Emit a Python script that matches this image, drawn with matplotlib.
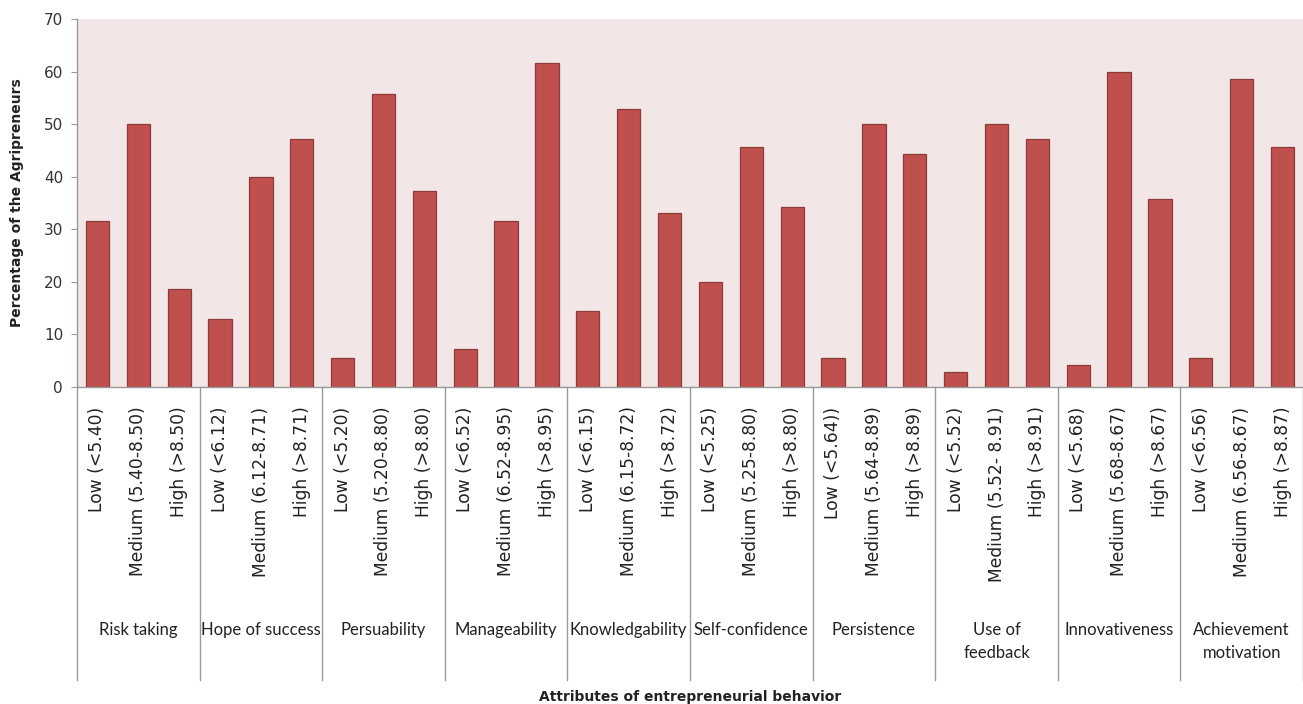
import numpy as np
import matplotlib.pyplot as plt
import matplotlib.transforms as mtransforms

# attribute groups and the three levels inside each
attributes = ['Risk taking', 'Hope of success', 'Persuability', 'Manageability',
              'Knowledgability', 'Self-confidence', 'Persistence', 'Use of\nfeedback',
              'Innovativeness', 'Achievement\nmotivation']

level_labels = [
    'Low (<5.40)', 'Medium (5.40-8.50)', 'High (>8.50)',
    'Low (<6.12)', 'Medium (6.12-8.71)', 'High (>8.71)',
    'Low (<5.20)', 'Medium (5.20-8.80)', 'High (>8.80)',
    'Low (<6.52)', 'Medium (6.52-8.95)', 'High (>8.95)',
    'Low (<6.15)', 'Medium (6.15-8.72)', 'High (>8.72)',
    'Low (<5.25)', 'Medium (5.25-8.80)', 'High (>8.80)',
    'Low (<5.64))', 'Medium (5.64-8.89)', 'High (>8.89)',
    'Low (<5.52)', 'Medium (5.52- 8.91)', 'High (>8.91)',
    'Low (<5.68)', 'Medium (5.68-8.67)', 'High (>8.67)',
    'Low (<6.56)', 'Medium (6.56-8.67)', 'High (>8.87)',
]

percent = [
    31.6, 50.1, 18.6,
    12.9, 39.9, 47.1,
    5.6, 55.7, 37.2,
    7.2, 31.6, 61.6,
    14.4, 52.9, 33.1,
    20.0, 45.6, 34.2,
    5.6, 50.1, 44.4,
    2.9, 50.1, 47.1,
    4.2, 60.0, 35.7,
    5.6, 58.5, 45.6,
]

W, H = 1303, 704
fig = plt.figure(figsize=(W / 100, H / 100), dpi=100)
ax = fig.add_axes([77 / W, 1 - 387 / H, 1 - 77 / W, (387 - 19) / H])

x = np.arange(len(percent))
ax.bar(x, percent, width=0.57, color='#C0504D', edgecolor='#8C3B39', linewidth=0.9, zorder=2)

ax.set_facecolor('#F2E6E6')
ax.set_xlim(-0.5, len(percent) - 0.5)
ax.set_ylim(0, 70)
ax.set_yticks(range(0, 71, 10))
ax.tick_params(axis='y', labelsize=11, colors='#333333', length=4, width=0.8, pad=6)
ax.tick_params(axis='y', color='#999999')
ax.set_xticks(x)
ax.set_xticklabels(level_labels, rotation=90, va='top', ha='center', fontsize=12.3,
                   color='#222222')
ax.tick_params(axis='x', length=0, pad=14)

for s in ['top', 'right']:
    ax.spines[s].set_visible(False)
for s in ['left', 'bottom']:
    ax.spines[s].set_color('#999999')
    ax.spines[s].set_linewidth(1)

# group separators and group names below the axis
trans = mtransforms.blended_transform_factory(ax.transData, ax.transAxes)
y_end = (387 - 680) / 368
for k in range(len(attributes) + 1):
    xs = 3 * k - 0.5
    ax.plot([xs, xs], [0, y_end], color='#999999', lw=1, transform=trans, clip_on=False)

for k, name in enumerate(attributes):
    ax.text(3 * k + 1, (387 - 622) / 368, name, transform=trans, ha='center', va='top',
            fontsize=12, family='Lato', color='#222222', linespacing=1.5)

ax.set_ylabel('Percentage of the Agripreneurs', fontsize=10, fontweight='bold',
              color='#222222', labelpad=14)
fig.text((77 + W) / 2 / W, 1 - 697 / H, 'Attributes of entrepreneurial behavior',
         ha='center', va='center', fontsize=10, fontweight='bold', color='#222222')

fig.savefig('out.png', dpi=100)
